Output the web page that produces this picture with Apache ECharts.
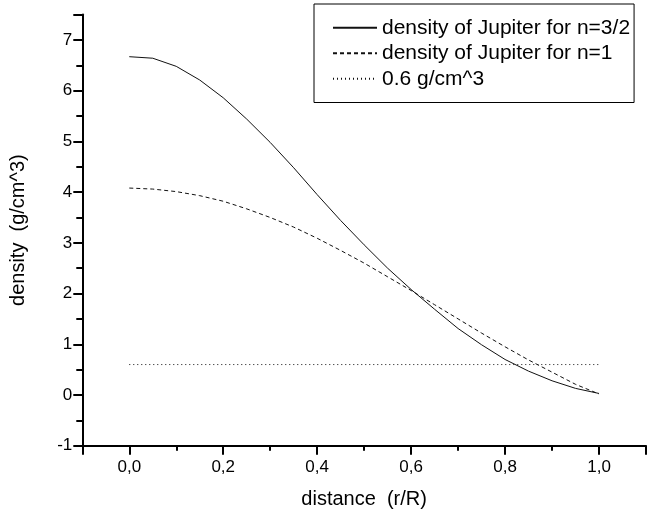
<!DOCTYPE html>
<html>
<head>
<meta charset="utf-8">
<script src="https://cdn.jsdelivr.net/npm/echarts@6/dist/echarts.min.js"></script>
<style>
html,body{margin:0;padding:0;background:#fff;}
#c{width:649px;height:516px;}
</style>
</head>
<body>
<div id="c"></div>
<script>
// r/R sample positions
var distance = [0.00,0.05,0.10,0.15,0.20,0.25,0.30,0.35,0.40,0.45,0.50,0.55,0.60,0.65,0.70,0.75,0.80,0.85,0.90,0.95,1.00];
// density of Jupiter for n=3/2 (g/cm^3)
var densityN32 = [6.67,6.64,6.48,6.21,5.86,5.44,4.98,4.48,3.95,3.44,2.96,2.50,2.08,1.69,1.31,0.99,0.70,0.47,0.28,0.13,0.03];
// density of Jupiter for n=1 (g/cm^3)
var densityN1 = [4.08,4.06,4.01,3.93,3.82,3.67,3.50,3.31,3.09,2.85,2.60,2.33,2.06,1.78,1.50,1.22,0.95,0.69,0.45,0.21,0.02];
// constant reference level
var refLevel = [0.6,0.6];
var refDistance = [0.0,1.0];

var seriesNames = ['density of Jupiter for n=3/2','density of Jupiter for n=1','0.6 g/cm^3'];

function pairs(xs, ys){ return xs.map(function(x,i){ return [x, ys[i]]; }); }

var FONT = "'Liberation Sans', Arial, sans-serif";
var chart = echarts.init(document.getElementById('c'), null, {renderer:'canvas'});
chart.setOption({
  backgroundColor:'#ffffff',
  animation:false,
  textStyle:{fontFamily:FONT},
  grid:{left:82.3, top:14.6, width:572.4, height:431.1, containLabel:false},
  legend:{
    orient:'vertical', left:314, top:4,
    padding:[11,4,11,18],
    itemWidth:44, itemHeight:10, itemGap:0,
    borderColor:'#000', borderWidth:1, backgroundColor:'#fff',
    itemStyle:{opacity:0},
    textStyle:{fontFamily:FONT, fontSize:21, color:'#000', lineHeight:25.5},
    data:seriesNames
  },
  xAxis:{
    type:'value', min:-0.1, max:1.1, splitNumber:6,
    name:'distance  (r/R)', nameLocation:'middle', nameGap:44,
    nameTextStyle:{fontFamily:FONT, fontSize:20, color:'#000'},
    axisLine:{show:true, onZero:false, lineStyle:{color:'#000', width:2}},
    axisTick:{show:true, inside:false, length:9, lineStyle:{color:'#000', width:2}},
    minorTick:{show:true, splitNumber:2, length:5, lineStyle:{color:'#000', width:2}},
    splitLine:{show:false},
    axisLabel:{fontFamily:FONT, fontSize:17, color:'#000', margin:13,
      showMinLabel:true, showMaxLabel:true,
      formatter:function(v){
        var k = Math.round(v*10);
        if (Math.abs(v*10-k)>1e-6 || k%2!==0 || k<0 || k>10) return '';
        return (k/10).toFixed(1).replace('.',',');
      }}
  },
  yAxis:{
    type:'value', min:-1, max:7.5, interval:1,
    name:'density  (g/cm^3)', nameLocation:'middle', nameGap:54, nameRotate:90,
    nameTextStyle:{fontFamily:FONT, fontSize:20, color:'#000'},
    axisLine:{show:true, onZero:false, lineStyle:{color:'#000', width:2}},
    axisTick:{show:true, inside:false, length:9, lineStyle:{color:'#000', width:2}},
    minorTick:{show:true, splitNumber:2, length:6, lineStyle:{color:'#000', width:2}},
    splitLine:{show:false},
    axisLabel:{fontFamily:FONT, fontSize:17, color:'#000', margin:10,
      formatter:function(v){
        if (Math.abs(v-Math.round(v))>1e-6) return '';
        return String(Math.round(v));
      }}
  },
  series:[
    {name:seriesNames[0], type:'line', symbol:'none', data:pairs(distance,densityN32),
     lineStyle:{color:'#111', width:1, type:'solid'}, itemStyle:{color:'#111'}},
    {name:seriesNames[1], type:'line', symbol:'none', data:pairs(distance,densityN1),
     lineStyle:{color:'#111', width:1, type:[4,3]}, itemStyle:{color:'#111'}},
    {name:seriesNames[2], type:'line', symbol:'none', data:pairs(refDistance,refLevel),
     lineStyle:{color:'#111', width:1, type:[1,3]}, itemStyle:{color:'#111'}}
  ]
});
</script>
</body>
</html>
